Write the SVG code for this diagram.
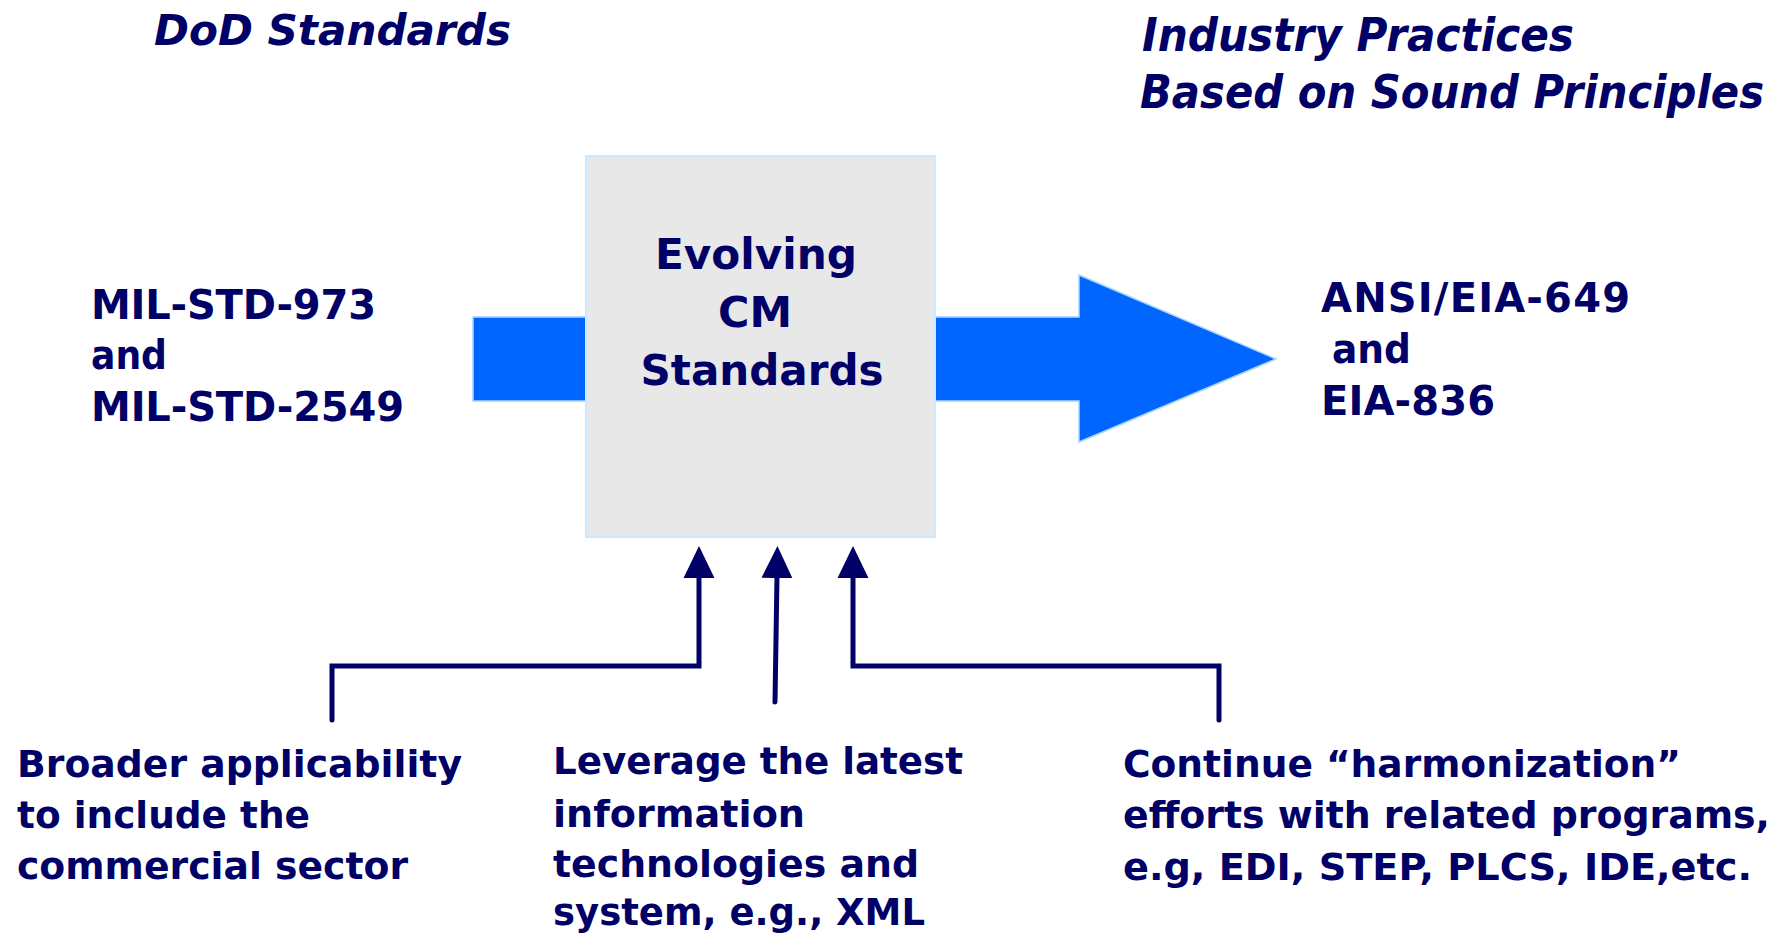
<svg xmlns="http://www.w3.org/2000/svg" width="1787" height="936" viewBox="0 0 1787 936">
  <style>
    text { font-family: "DejaVu Sans", Verdana, sans-serif; font-weight: bold; fill: #000066; }
    .title { font-style: italic; }
    .lbl { font-size: 40px; }
    .bot { font-size: 38px; }
    .box { fill: #E8E8E8; stroke: #CDE9FF; stroke-width: 2; }
    .blk { fill: #0066FF; stroke: #A8D4FF; stroke-width: 1.5; }
    .nav { fill: none; stroke: #000066; stroke-width: 5; stroke-linecap: round; stroke-linejoin: miter; }
  </style>
  <defs>
    <marker id="ah" markerUnits="userSpaceOnUse" markerWidth="32" markerHeight="32" viewBox="0 0 31 30" refX="2" refY="15" orient="auto">
      <path d="M0,0 L31,15 L0,30 z" fill="#000066"/>
    </marker>
  </defs>
  <rect width="1787" height="936" fill="#FFFFFF"/>

  <g id="title-dod">
    <text class="title" x="154" y="45" font-size="43" textLength="357" lengthAdjust="spacingAndGlyphs">DoD Standards</text>
  </g>
  <g id="title-industry">
    <text class="title" transform="translate(1142,51) scale(1,1.09)" x="0" y="0" font-size="42" textLength="432" lengthAdjust="spacingAndGlyphs">Industry Practices</text>
    <text class="title" transform="translate(1140,108) scale(1,1.09)" x="0" y="0" font-size="42" textLength="624" lengthAdjust="spacingAndGlyphs">Based on Sound Principles</text>
  </g>

  <g id="connectors">
    <rect class="blk" x="473" y="317" width="115" height="84"/>
    <polygon class="blk" points="933,317 1079,317 1079,275 1276,359 1079,442 1079,401 933,401"/>
    <path class="nav" d="M332,720 L332,666 L699,666 L699,576" marker-end="url(#ah)"/>
    <path class="nav" d="M775,702 L777,576" marker-end="url(#ah)"/>
    <path class="nav" d="M1219,720 L1219,666 L853,666 L853,576" marker-end="url(#ah)"/>
  </g>

  <g id="node-evolving">
    <rect class="box" x="586" y="156" width="349" height="381"/>
    <text x="756" y="269" font-size="43" text-anchor="middle" textLength="202" lengthAdjust="spacingAndGlyphs">Evolving</text>
    <text x="755" y="327" font-size="43" text-anchor="middle" textLength="74" lengthAdjust="spacingAndGlyphs">CM</text>
    <text x="762" y="385" font-size="43" text-anchor="middle" textLength="243" lengthAdjust="spacingAndGlyphs">Standards</text>
  </g>

  <g id="node-dod">
    <text class="lbl" x="91" y="319" textLength="285">MIL-STD-973</text>
    <text class="lbl" x="91" y="369" textLength="76" lengthAdjust="spacingAndGlyphs">and</text>
    <text class="lbl" x="91" y="421" textLength="313">MIL-STD-2549</text>
  </g>

  <g id="node-industry">
    <text class="lbl" x="1321" y="312" textLength="309">ANSI/EIA-649</text>
    <text class="lbl" x="1332" y="363" textLength="79" lengthAdjust="spacingAndGlyphs">and</text>
    <text class="lbl" x="1321" y="415" textLength="174">EIA-836</text>
  </g>

  <g id="node-broader">
    <text class="bot" x="17" y="777" textLength="445" lengthAdjust="spacingAndGlyphs">Broader applicability</text>
    <text class="bot" x="17" y="828" textLength="293" lengthAdjust="spacingAndGlyphs">to include the</text>
    <text class="bot" x="17" y="879" textLength="391" lengthAdjust="spacingAndGlyphs">commercial sector</text>
  </g>

  <g id="node-leverage">
    <text class="bot" x="553" y="774" textLength="410" lengthAdjust="spacingAndGlyphs">Leverage the latest</text>
    <text class="bot" x="553" y="827" textLength="252" lengthAdjust="spacingAndGlyphs">information</text>
    <text class="bot" x="553" y="877" textLength="366" lengthAdjust="spacingAndGlyphs">technologies and</text>
    <text class="bot" x="553" y="925" textLength="372" lengthAdjust="spacingAndGlyphs">system, e.g., XML</text>
  </g>

  <g id="node-harmonization">
    <text class="bot" x="1123" y="777" textLength="558" lengthAdjust="spacingAndGlyphs">Continue “harmonization”</text>
    <text class="bot" x="1123" y="828" textLength="647" lengthAdjust="spacingAndGlyphs">efforts with related programs,</text>
    <text class="bot" x="1123" y="880" textLength="629" lengthAdjust="spacingAndGlyphs">e.g, EDI, STEP, PLCS, IDE,etc.</text>
  </g>
</svg>
